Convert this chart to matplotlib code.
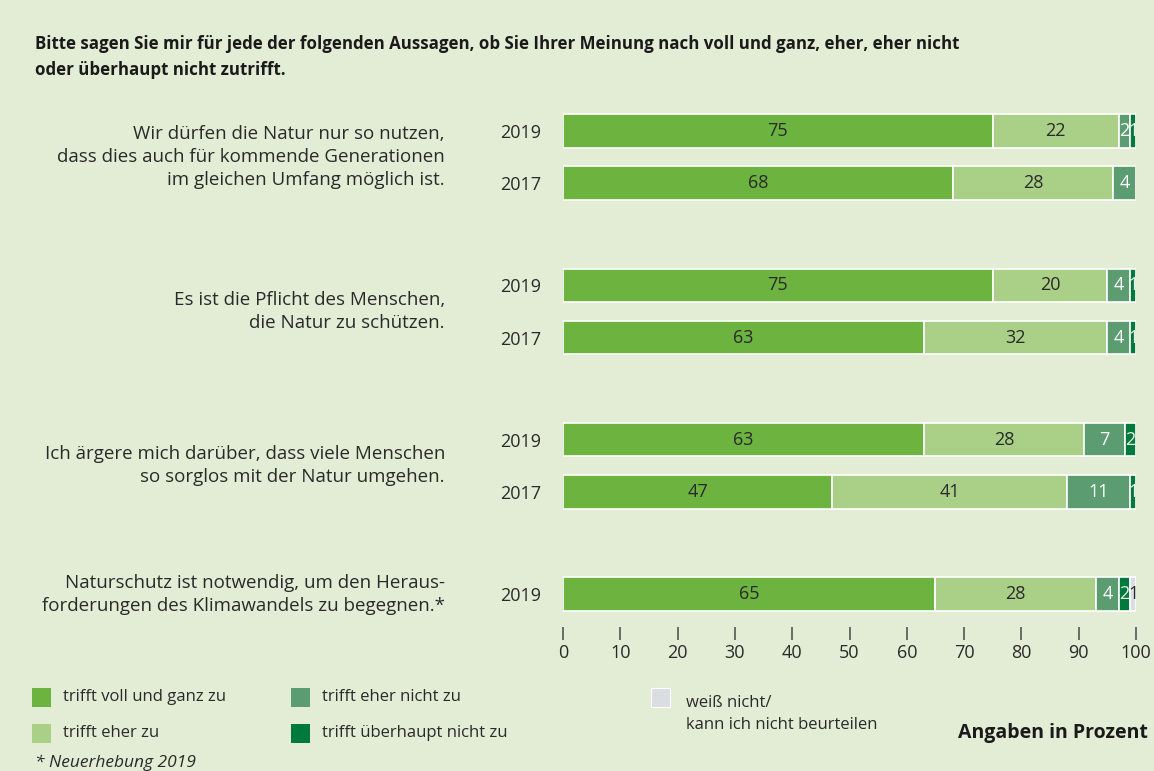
import numpy as np
import matplotlib.pyplot as plt
from matplotlib.patches import Rectangle
from matplotlib.transforms import blended_transform_factory

plt.rcParams['font.family'] = ['Open Sans', 'DejaVu Sans']

# data
statements = ['Wir dürfen die Natur nur so nutzen,\ndass dies auch für kommende Generationen\nim gleichen Umfang möglich ist.',
              'Es ist die Pflicht des Menschen,\ndie Natur zu schützen.',
              'Ich ärgere mich darüber, dass viele Menschen\nso sorglos mit der Natur umgehen.',
              'Naturschutz ist notwendig, um den Heraus-\nforderungen des Klimawandels zu begegnen.*']
years = [['2019', '2017'], ['2019', '2017'], ['2019', '2017'], ['2019']]
voll = [[75, 68], [75, 63], [63, 47], [65]]
eher = [[22, 28], [20, 32], [28, 41], [28]]
eher_nicht = [[2, 4], [4, 4], [7, 11], [4]]
ueberhaupt = [[1, 0], [1, 1], [2, 1], [2]]
weiss = [[0, 0], [0, 0], [0, 0], [1]]

cat_names = ['trifft voll und ganz zu', 'trifft eher zu', 'trifft eher nicht zu',
             'trifft überhaupt nicht zu', 'weiß nicht/\nkann ich nicht beurteilen']
colors = ['#6db33f', '#aad088', '#5b9c70', '#00793d', '#dadee2']
txt_colors = ['#2a2a2a', '#2a2a2a', 'white', '#e8f0e0', '#2a2a2a']
bg = '#e3edd5'
dark = '#2a2a2a'

fig = plt.figure(figsize=(11.54, 7.71), dpi=100, facecolor=bg)
ax = fig.add_axes([563 / 1154, 1 - 627 / 771, 573 / 1154, 527 / 771])
ax.set_facecolor(bg)

group_gap = 2.95
ypos, ylabels = [], []
series = [voll, eher, eher_nicht, ueberhaupt, weiss]
tr = blended_transform_factory(ax.transAxes, ax.transData)
for g in range(len(statements)):
    for k, yr in enumerate(years[g]):
        y = g * group_gap + k
        ypos.append(y)
        ylabels.append(yr)
        left = 0
        for s, vals in enumerate(series):
            v = vals[g][k]
            if v == 0:
                continue
            ax.barh(y, v, left=left, height=0.64, color=colors[s],
                    edgecolor='white', linewidth=1.2)
            ax.text(left + v / 2, y, str(v), ha='center', va='center',
                    fontsize=13, color=txt_colors[s])
            left += v
    yc = g * group_gap + (len(years[g]) - 1) / 2
    ax.text(-0.206, yc, statements[g], transform=tr, ha='right', va='center',
            fontsize=13.5, color=dark, linespacing=1.36)

ax.set_xlim(0, 100)
ax.set_ylim(9.48, -0.59)
ax.set_yticks(ypos)
ax.set_yticklabels(ylabels, fontsize=13, color=dark)
ax.tick_params(axis='y', length=0, pad=16)
ax.set_xticks(np.arange(0, 101, 10))
ax.tick_params(axis='x', length=9, width=1.2, color='#555555', pad=3,
               labelsize=13, labelcolor=dark)
for sp in ax.spines.values():
    sp.set_visible(False)

fig.text(35 / 1154, 1 - 57 / 771,
         'Bitte sagen Sie mir für jede der folgenden Aussagen, ob Sie Ihrer Meinung nach voll und ganz, eher, eher nicht\noder überhaupt nicht zutrifft.',
         ha='left', va='center', fontsize=12.2, fontweight='bold', color='#1a1a1a',
         linespacing=1.58)

# legend
leg_pos = [(32, 697), (32, 733), (291, 697), (291, 733), (651, 697)]
for (lx, ly), c, lab in zip(leg_pos, colors, cat_names):
    fig.patches.append(Rectangle((lx / 1154, 1 - (ly + 10) / 771), 19 / 1154, 19 / 771,
                                 transform=fig.transFigure, facecolor=c,
                                 edgecolor='white' if c == colors[4] else 'none', linewidth=0.8))
    if '\n' in lab:
        fig.text((lx + 35) / 1154, 1 - 714 / 771, lab, ha='left', va='center',
                 fontsize=12, color=dark, linespacing=1.5)
    else:
        fig.text((lx + 31) / 1154, 1 - ly / 771, lab, ha='left', va='center',
                 fontsize=12, color=dark)

fig.text(1148 / 1154, 1 - 733 / 771, 'Angaben in Prozent', ha='right', va='center',
         fontsize=14, fontweight='bold', color='#1a1a1a')
fig.text(35 / 1154, 1 - 755 / 771, '* Neuerhebung 2019', ha='left', va='top',
         fontsize=12.5, style='italic', color=dark)

fig.savefig('out.png', dpi=100, facecolor=bg)
